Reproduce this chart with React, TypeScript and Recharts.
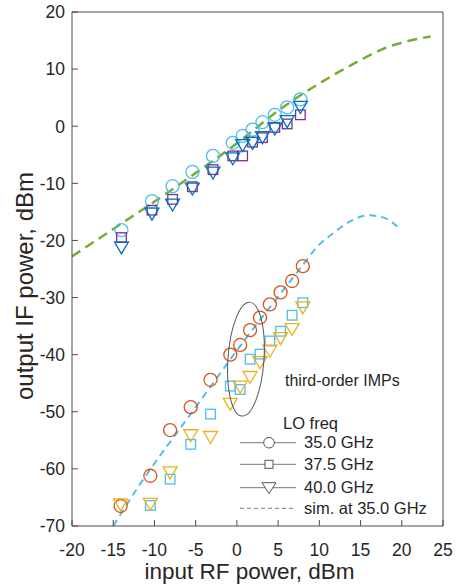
import React from "react";
import { ComposedChart, Scatter, Line, XAxis, YAxis, Legend, ReferenceDot } from "recharts";

const FONT = '"Liberation Sans", Arial, Helvetica, sans-serif';
const AXIS = "#4d4d4d";
const TXT = "#262626";

const xTicks = [-20, -15, -10, -5, 0, 5, 10, 15, 20, 25];
const yTicks = [-70, -60, -50, -40, -30, -20, -10, 0, 10, 20];

// fundamental (IF) output, measured
const pinFund = [-14, -10.3, -7.8, -5.4, -2.9, -0.5, 0.7, 1.9, 3.1, 4.6, 6.1, 7.7];
const fund35 = [-18.2, -13.1, -10.5, -8.0, -5.2, -2.9, -1.7, -0.6, 0.7, 2.0, 3.3, 4.7];
const fund375 = [-19.5, -14.7, -12.8, -10.6, -7.6, -5.2, -5.2, -2.8, -2.0, -0.2, 0.4, 2.0];
const fund40 = [-21.3, -15.4, -13.8, -11.0, -8.2, -5.7, -3.4, -3.0, -2.0, -0.5, 0.8, 3.3];

// third-order IMPs, measured
const pinImp = [-14.1, -10.5, -8.1, -5.6, -3.2, -0.8, 0.4, 1.6, 2.8, 4.0, 5.3, 6.7, 8.0];
const imp35 = [-66.5, -61.2, -53.2, -49.2, -44.4, -40.0, -38.3, -35.7, -33.5, -31.2, -29.1, -27.1, -24.5];
const pinImp375 = [-10.5, -8.1, -5.6, -3.2, -0.8, 0.4, 1.6, 2.8, 4.0, 5.3, 6.7, 8.0];
const imp375 = [-66.4, -61.8, -55.7, -50.4, -45.5, -46.1, -40.8, -39.9, -37.6, -35.9, -33.1, -30.9];
const imp40 = [-66.3, -66.2, -60.7, -54.2, -54.5, -48.7, -45.7, -44.0, -41.4, -39.4, -37.2, -35.6, -31.8];

// simulation at 35 GHz
const simFundX = [-20, -15, -10, -5, 0, 5, 9, 12, 15, 18, 21, 23.5];
const simFundY = [-22.8, -18.0, -13.2, -8.2, -3.0, 2.7, 6.6, 9.2, 11.6, 13.7, 15.0, 15.7];
const simImpX = [-15, -12.4, -5, 0.4, 7.9, 9.8, 11.8, 13.8, 16.0, 17.8, 19.8];
const simImpY = [-70, -64.1, -49.2, -38.5, -24.5, -21.0, -18.6, -16.6, -15.6, -16.0, -18.0];

const zip = (xs: number[], ys: number[]) => xs.map((x, i) => ({ x, y: ys[i] }));

const circle = (color: string) => (p: any) => (
  <circle cx={p.cx} cy={p.cy} r={6.5} fill="none" stroke={color} strokeWidth={1.3} />
);
const square = (color: string) => (p: any) => (
  <rect x={p.cx - 4.8} y={p.cy - 4.8} width={9.6} height={9.6} fill="none" stroke={color} strokeWidth={1.3} />
);
const triDown = (color: string) => (p: any) => (
  <polygon
    points={`${p.cx - 7},${p.cy - 6} ${p.cx + 7},${p.cy - 6} ${p.cx},${p.cy + 6}`}
    fill="none"
    stroke={color}
    strokeWidth={1.3}
  />
);

const tickText = { fontFamily: FONT, fontSize: 17.5, fill: TXT };

const BottomTick = ({ x, y, payload }: any) => (
  <g>
    <line x1={x} y1={y} x2={x} y2={y - 6} stroke={AXIS} />
    <text x={x} y={y + 30} textAnchor="middle" {...tickText}>{payload.value}</text>
  </g>
);
const TopTick = ({ x, y }: any) => <line x1={x} y1={y} x2={x} y2={y + 6} stroke={AXIS} />;
const LeftTick = ({ x, y, payload }: any) => (
  <g>
    <line x1={x} y1={y} x2={x + 6} y2={y} stroke={AXIS} />
    <text x={x - 7} y={y} dy="0.36em" textAnchor="end" {...tickText}>{payload.value}</text>
  </g>
);
const RightTick = ({ x, y }: any) => <line x1={x} y1={y} x2={x - 6} y2={y} stroke={AXIS} />;

const Ellipse = ({ cx, cy }: any) => (
  <ellipse cx={cx} cy={cy} rx={18} ry={57} fill="none" stroke="#555" strokeWidth={1} transform={`rotate(4 ${cx} ${cy})`} />
);

const legendRows = [
  { label: "35.0 GHz", mark: "circle" },
  { label: "37.5 GHz", mark: "square" },
  { label: "40.0 GHz", mark: "tri" },
  { label: "sim. at 35.0 GHz", mark: "dash" },
];

const LegendBox = () => (
  <svg width={227} height={170} style={{ fontFamily: FONT, overflow: "visible" }}>
    <text x={55} y={20} dy="0.35em" fontSize={16} fill={TXT}>third-order IMPs</text>
    <text x={53} y={63} dy="0.35em" fontSize={16.5} fill={TXT}>LO freq</text>
    {legendRows.map((r, i) => {
      const y = [82.7, 104.3, 127.7, 148.3][i];
      return (
        <g key={r.label}>
          <line x1={10} x2={66} y1={y} y2={y} stroke="#777" strokeWidth={1} strokeDasharray={r.mark === "dash" ? "4 3" : undefined} />
          {r.mark === "circle" && <circle cx={39} cy={y} r={5.3} fill="#fff" stroke="#555" />}
          {r.mark === "square" && <rect x={35} y={y - 4} width={8} height={8} fill="#fff" stroke="#555" />}
          {r.mark === "tri" && <polygon points={`${32},${y - 5} ${46},${y - 5} ${39},${y + 6}`} fill="#fff" stroke="#555" />}
          <text x={74} y={y} dy="0.35em" fontSize={16.5} fill={TXT}>{r.label}</text>
        </g>
      );
    })}
  </svg>
);

export default function App() {
  return (
    <div style={{ position: "absolute", left: 0, top: 0, width: 457, height: 587, background: "#fff", fontFamily: FONT }}>
      <ComposedChart width={457} height={587} margin={{ top: 11, right: 13, bottom: 0, left: 0 }}>
        <XAxis
          xAxisId="b"
          type="number"
          dataKey="x"
          domain={[-20, 25]}
          ticks={xTicks}
          interval={0}
          height={61}
          tickSize={0}
          tickMargin={0}
          tickLine={false}
          axisLine={{ stroke: AXIS }}
          tick={<BottomTick />}
          label={{ value: "input RF power, dBm", position: "insideBottom", offset: 8, dx: -8, fontSize: 22.5, fill: TXT, fontFamily: FONT }}
        />
        <XAxis
          xAxisId="t"
          orientation="top"
          type="number"
          dataKey="x"
          domain={[-20, 25]}
          ticks={xTicks}
          interval={0}
          height={1}
          tickSize={0}
          tickMargin={0}
          tickLine={false}
          axisLine={{ stroke: AXIS }}
          tick={<TopTick />}
        />
        <YAxis
          yAxisId="l"
          type="number"
          dataKey="y"
          domain={[-70, 20]}
          ticks={yTicks}
          interval={0}
          width={72}
          tickSize={0}
          tickMargin={0}
          tickLine={false}
          axisLine={{ stroke: AXIS }}
          tick={<LeftTick />}
          label={{
            content: ({ viewBox }: any) => {
              const bx = viewBox.x + 33;
              const cy = viewBox.y + viewBox.height / 2 + 17;
              return (
                <text x={bx} y={cy} transform={`rotate(-90 ${bx} ${cy})`} textAnchor="middle" fontSize={24} fill={TXT} fontFamily={FONT}>
                  output IF power, dBm
                </text>
              );
            },
          }}
        />
        <YAxis
          yAxisId="r"
          orientation="right"
          type="number"
          dataKey="y"
          domain={[-70, 20]}
          ticks={yTicks}
          interval={0}
          width={1}
          tickSize={0}
          tickMargin={0}
          tickLine={false}
          axisLine={{ stroke: AXIS }}
          tick={<RightTick />}
        />

        <Scatter xAxisId="b" yAxisId="l" data={zip(pinFund, fund35)} shape={circle("#4DBEEE")} isAnimationActive={false} />
        <Scatter xAxisId="b" yAxisId="l" data={zip(pinFund, fund375)} shape={square("#7E2F8E")} isAnimationActive={false} />
        <Scatter xAxisId="b" yAxisId="l" data={zip(pinFund, fund40)} shape={triDown("#0072BD")} isAnimationActive={false} />

        <Scatter xAxisId="b" yAxisId="l" data={zip(pinImp, imp35)} shape={circle("#D95319")} isAnimationActive={false} />
        <Scatter xAxisId="b" yAxisId="l" data={zip(pinImp375, imp375)} shape={square("#4DBEEE")} isAnimationActive={false} />
        <Scatter xAxisId="b" yAxisId="l" data={zip(pinImp, imp40)} shape={triDown("#EDB120")} isAnimationActive={false} />

        <Line xAxisId="b" yAxisId="l" data={zip(simFundX, simFundY)} dataKey="y" type="monotone" stroke="#77AC30" strokeWidth={2.5} strokeDasharray="10 6" dot={false} isAnimationActive={false} />
        <Line xAxisId="b" yAxisId="l" data={zip(simImpX, simImpY)} dataKey="y" type="monotone" stroke="#4DBEEE" strokeWidth={2} strokeDasharray="7 5" dot={false} isAnimationActive={false} />

        <ReferenceDot xAxisId="b" yAxisId="l" x={1.1} y={-40.8} r={0} shape={<Ellipse />} />

        <Legend
          layout="horizontal"
          verticalAlign="middle"
          align="center"
          wrapperStyle={{ position: "absolute", left: 230, top: 360, width: 227, height: 170 }}
          content={() => <LegendBox />}
        />
      </ComposedChart>
    </div>
  );
}
